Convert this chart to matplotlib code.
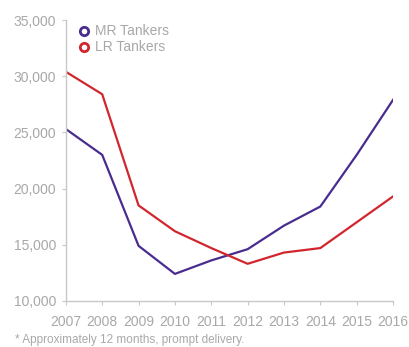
import matplotlib
matplotlib.use('Agg')
import matplotlib.pyplot as plt
from matplotlib.ticker import FuncFormatter

years = [2007, 2008, 2009, 2010, 2011, 2012, 2013, 2014, 2015, 2016]
mr_tankers = [25300, 23000, 14900, 12400, 13600, 14600, 16700, 18400, 23000, 27900]
lr_tankers = [30400, 28400, 18500, 16200, 14700, 13300, 14300, 14700, 17000, 19300]
yticks = [10000, 15000, 20000, 25000, 30000, 35000]

mr_color = '#4a2c8f'
lr_color = '#d2262e'
grey = '#a8a8a8'

plt.rcParams['font.family'] = ['Liberation Sans', 'DejaVu Sans']

fig = plt.figure(figsize=(4.09, 3.47), dpi=100)
ax = fig.add_axes([0.161, 0.133, 0.80, 0.809])

ax.plot(years, mr_tankers, color=mr_color, lw=1.6, label='MR Tankers')
ax.plot(years, lr_tankers, color=lr_color, lw=1.6, label='LR Tankers')

ax.set_xlim(2007, 2016)
ax.set_ylim(10000, 35000)
ax.set_xticks(years)
ax.set_yticks(yticks)
ax.yaxis.set_major_formatter(FuncFormatter(lambda v, p: f'{int(v):,}'))

for s in ['top', 'right']:
    ax.spines[s].set_visible(False)
for s in ['left', 'bottom']:
    ax.spines[s].set_color('#c8c8c8')
    ax.spines[s].set_linewidth(1.0)
ax.tick_params(colors='#c8c8c8', labelcolor=grey, labelsize=10, length=3)
ax.tick_params(axis='x', pad=7)
ax.tick_params(axis='y', pad=4)

# legend with ring markers
for i, (name, c) in enumerate([('MR Tankers', mr_color), ('LR Tankers', lr_color)]):
    yy = 0.96 - i * 0.057
    ax.plot([0.055], [yy], transform=ax.transAxes, marker='o', ms=6,
            mfc='white', mec=c, mew=2, clip_on=False)
    ax.text(0.088, yy, name, transform=ax.transAxes, va='center', ha='left',
            color=grey, fontsize=10)

fig.text(0.037, 0.012, '* Approximately 12 months, prompt delivery.',
         color=grey, fontsize=8.5)

fig.savefig('out.png', dpi=100)
